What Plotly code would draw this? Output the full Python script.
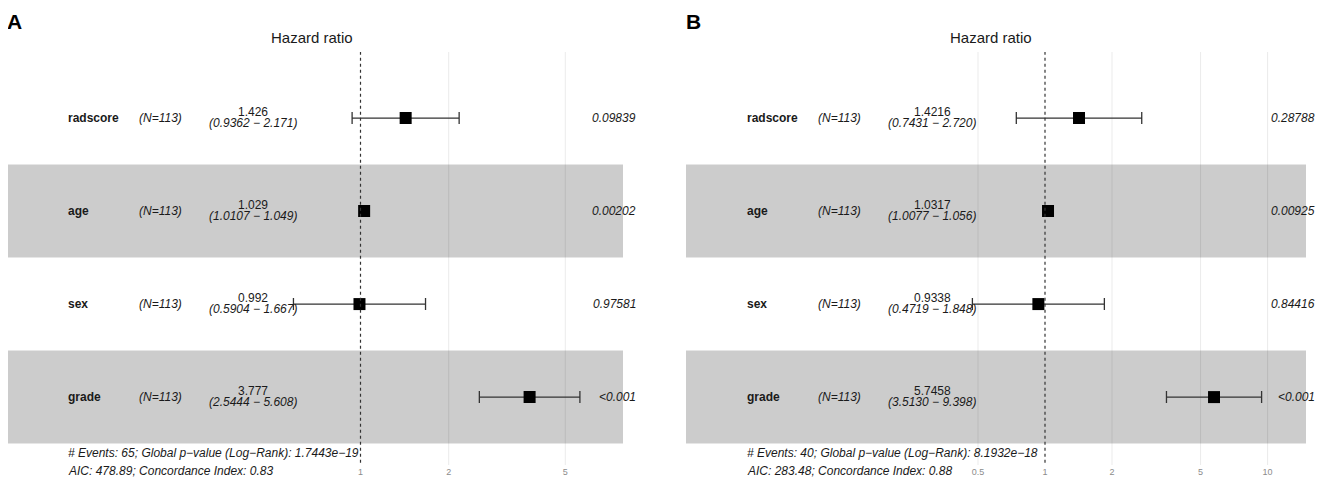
import plotly.graph_objects as go

# forest plots of two cox models (A, B)
variables = ["radscore", "age", "sex", "grade"]
n_text = ["(N=113)", "(N=113)", "(N=113)", "(N=113)"]
rows = [4, 3, 2, 1]

hr_a = ["1.426", "1.029", "0.992", "3.777"]
lo_a = ["0.9362", "1.0107", "0.5904", "2.5444"]
hi_a = ["2.171", "1.049", "1.667", "5.608"]
p_a = ["0.09839", "0.00202", "0.97581", "<0.001"]
footer_a = ["# Events: 65; Global p\u2212value (Log\u2212Rank): 1.7443e\u221219",
            "AIC: 478.89; Concordance Index: 0.83"]
ticks_a = [1, 2, 5]

hr_b = ["1.4216", "1.0317", "0.9338", "5.7458"]
lo_b = ["0.7431", "1.0077", "0.4719", "3.5130"]
hi_b = ["2.720", "1.056", "1.848", "9.398"]
p_b = ["0.28788", "0.00925", "0.84416", "<0.001"]
footer_b = ["# Events: 40; Global p\u2212value (Log\u2212Rank): 8.1932e\u221218",
            "AIC: 283.48; Concordance Index: 0.88"]
ticks_b = [0.5, 1, 2, 5, 10]

# the page body has an 8px margin, so the figure is a bit smaller
M = 8
W, H = 1325 - 2 * M, 495 - 2 * M
FONT = "Liberation Sans, Arial, sans-serif"
YR = [0.27, 4.71]


def px(x):
    return (x - M) / W


def py(y):
    return 1 - (y - M) / H


# pixel position of HR = 1 and pixels per decade, per panel
scale_a = (360.5, 293.0)
scale_b = (1045.0, 222.6)


def to_val(pix, sc):
    return 10 ** ((pix - sc[0]) / sc[1])


fig = go.Figure()

panels = [
    dict(hr=hr_a, lo=lo_a, hi=hi_a, p=p_a, footer=footer_a, ticks=ticks_a,
         xa="x", ya="y", off=0, letter="A", sc=scale_a, band=(7, 623)),
    dict(hr=hr_b, lo=lo_b, hi=hi_b, p=p_b, footer=footer_b, ticks=ticks_b,
         xa="x2", ya="y2", off=679, letter="B", sc=scale_b, band=(686, 1306)),
]

annotations = []
shapes = []

for pn in panels:
    hr = [float(v) for v in pn["hr"]]
    lo = [float(v) for v in pn["lo"]]
    hi = [float(v) for v in pn["hi"]]
    fig.add_trace(go.Scatter(
        x=hr, y=rows, mode="markers",
        marker=dict(symbol="square", size=12, color="black"),
        error_x=dict(type="data", symmetric=False,
                     array=[h - m for h, m in zip(hi, hr)],
                     arrayminus=[m - l for m, l in zip(hr, lo)],
                     color="#333333", thickness=1.3, width=6),
        xaxis=pn["xa"], yaxis=pn["ya"], showlegend=False, hoverinfo="skip"))

    o = pn["off"]
    xref, yref = pn["xa"], pn["ya"]
    # light grid lines, drawn first so the bands darken them
    for t in pn["ticks"]:
        if t != 1:
            shapes.append(dict(type="line", xref=xref, yref=yref, x0=t, x1=t,
                               y0=YR[0], y1=YR[1], layer="below",
                               line=dict(color="#ebebeb", width=1)))
    # grey bands for every other row
    for r in rows:
        if r % 2 == 1:
            shapes.append(dict(type="rect", xref=xref, yref=yref,
                               x0=to_val(pn["band"][0], pn["sc"]),
                               x1=to_val(pn["band"][1], pn["sc"]),
                               y0=r - 0.5, y1=r + 0.5,
                               fillcolor="rgba(0,0,0,0.2)", line_width=0,
                               layer="below"))
    # reference line at HR = 1
    shapes.append(dict(type="line", xref=xref, yref=yref,
                       x0=1, x1=1, y0=YR[0] - 0.04, y1=YR[1],
                       line=dict(color="#333333", width=1.2, dash="dot")))

    for i, r in enumerate(rows):
        annotations += [
            dict(x=px(66 + o), y=r, xref="paper", yref=yref, xanchor="left",
                 text="<b>%s</b>" % variables[i], showarrow=False),
            dict(x=px(137 + o), y=r, xref="paper", yref=yref, xanchor="left",
                 text="<i>%s</i>" % n_text[i], showarrow=False),
            dict(x=px(253 + o), y=r, xref="paper", yref=yref, xanchor="center",
                 text=pn["hr"][i], showarrow=False, yshift=6),
            dict(x=px(253 + o), y=r, xref="paper", yref=yref, xanchor="center",
                 text="<i>(%s \u2212 %s)</i>" % (pn["lo"][i], pn["hi"][i]),
                 showarrow=False, yshift=-5),
            dict(x=px(638 + o), y=r, xref="paper", yref=yref, xanchor="right",
                 text="<i>%s</i>" % pn["p"][i], showarrow=False),
        ]
    annotations += [
        dict(x=px(66 + o), y=py(453), xref="paper", yref="paper",
             xanchor="left", yanchor="middle",
             text="<i>%s</i>" % pn["footer"][0], showarrow=False),
        dict(x=px(66 + o), y=py(471), xref="paper", yref="paper",
             xanchor="left", yanchor="middle",
             text="<i>%s</i>" % pn["footer"][1], showarrow=False),
        dict(x=px(312 + o), y=py(38), xref="paper", yref="paper",
             xanchor="center", yanchor="middle", text="Hazard ratio",
             showarrow=False, font=dict(size=15, color="#1a1a1a")),
        dict(x=px(5 + o), y=py(22), xref="paper", yref="paper",
             xanchor="left", yanchor="middle",
             text="<b>%s</b>" % pn["letter"], showarrow=False,
             font=dict(size=21, color="black")),
    ]

xcommon = dict(type="log", showgrid=False, zeroline=False, showline=False,
               ticks="", tickfont=dict(size=9, color="#8c8c8c"),
               fixedrange=True)
ycommon = dict(range=YR, domain=[py(465), py(52)], visible=False,
               fixedrange=True)

a_left, a_right = M, M + W / 2
b_left, b_right = M + W / 2, M + W

fig.update_layout(
    width=W, height=H, margin=dict(l=0, r=0, t=0, b=0),
    paper_bgcolor="white", plot_bgcolor="white",
    font=dict(family=FONT, size=12, color="#1a1a1a"),
    xaxis=dict(xcommon, domain=[0, 0.5], anchor="y",
               range=[(a_left - scale_a[0]) / scale_a[1],
                      (a_right - scale_a[0]) / scale_a[1]],
               tickvals=ticks_a, ticktext=[str(t) for t in ticks_a]),
    xaxis2=dict(xcommon, domain=[0.5, 1], anchor="y2",
                range=[(b_left - scale_b[0]) / scale_b[1],
                       (b_right - scale_b[0]) / scale_b[1]],
                tickvals=ticks_b, ticktext=[str(t) for t in ticks_b]),
    yaxis=dict(ycommon, anchor="x"),
    yaxis2=dict(ycommon, anchor="x2"),
    shapes=shapes, annotations=annotations,
)

fig.write_html("out.html")
